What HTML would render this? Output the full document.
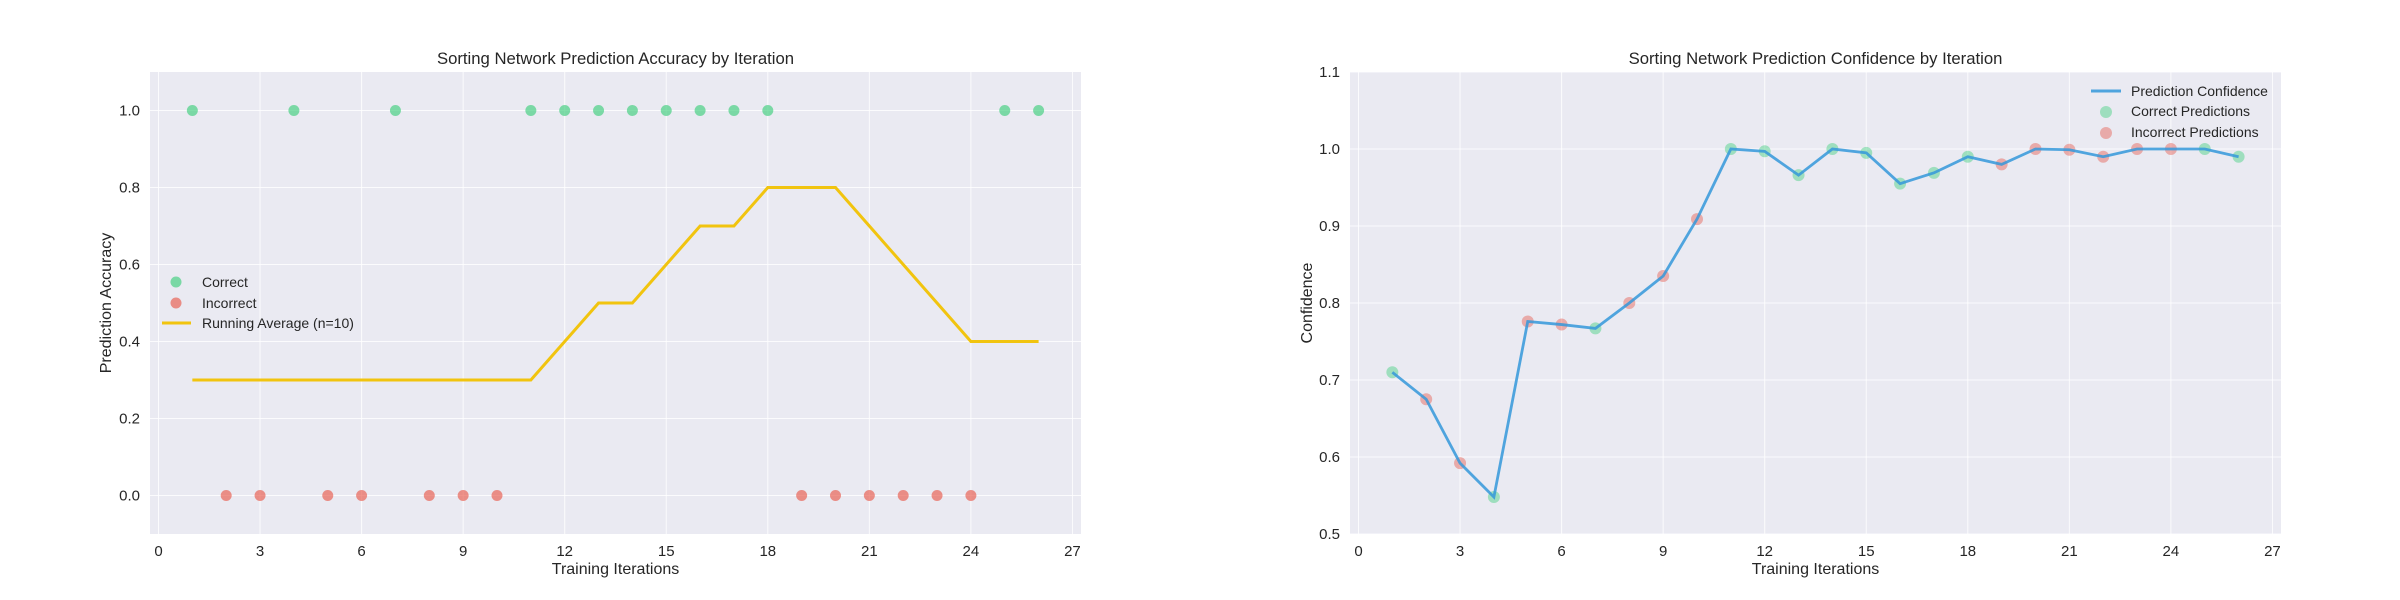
<!DOCTYPE html>
<html><head><meta charset="utf-8"><style>
html,body{margin:0;padding:0;background:#fff;}
svg{display:block;font-family:"Liberation Sans",sans-serif;}
</style></head><body>
<svg id="chart" width="2400" height="600" viewBox="0 0 2400 600" xmlns="http://www.w3.org/2000/svg"></svg>
<script>
const iterations = [1,2,3,4,5,6,7,8,9,10,11,12,13,14,15,16,17,18,19,20,21,22,23,24,25,26];
const correct = [1,0,0,1,0,0,1,0,0,0,1,1,1,1,1,1,1,1,0,0,0,0,0,0,1,1];
const runningAvg = [0.3,0.3,0.3,0.3,0.3,0.3,0.3,0.3,0.3,0.3,0.3,0.4,0.5,0.5,0.6,0.7,0.7,0.8,0.8,0.8,0.7,0.6,0.5,0.4,0.4,0.4];
const confidence = [0.71,0.675,0.592,0.548,0.776,0.772,0.767,0.800,0.835,0.909,1.0,0.997,0.966,1.0,0.995,0.955,0.969,0.99,0.98,1.0,0.999,0.99,1.0,1.0,1.0,0.99];
const xTicks = [0,3,6,9,12,15,18,21,24,27];
const yTicksAcc = [0.0,0.2,0.4,0.6,0.8,1.0];
const yTicksConf = [0.5,0.6,0.7,0.8,0.9,1.0,1.1];

const NS = "http://www.w3.org/2000/svg";
const svg = document.getElementById('chart');
function el(tag, attrs, parent){
  const e = document.createElementNS(NS, tag);
  for (const k in attrs) e.setAttribute(k, attrs[k]);
  (parent||svg).appendChild(e);
  return e;
}
function makeAxes(left, xmin, xmax, ymin, ymax){
  const top=72, bottom=534, right=left+931;
  const x0 = left + 8.5;
  const sx = v => x0 + v*33.85;
  const sy = v => bottom - (v-ymin)/(ymax-ymin)*(bottom-top);
  return {left,right,top,bottom,sx,sy};
}
function drawFrame(ax, yTicks, yFmt, name){
  const g = el('g',{});
  
  
  const bg = el('rect',{x:ax.left,y:ax.top,width:ax.right-ax.left,height:ax.bottom-ax.top,fill:'#eaeaf2'},g);
  
  
  xTicks.forEach(t=>{
    const x = ax.sx(t);
    el('line',{x1:x,x2:x,y1:ax.top,y2:ax.bottom,stroke:'#fff','stroke-width':1,'stroke-opacity':0.8},g);
    const tx = el('text',{x:x,y:556,'text-anchor':'middle','font-size':15,fill:'#262626'},g);
    tx.textContent = t;
    
    
  });
  yTicks.forEach(t=>{
    const y = ax.sy(t);
    el('line',{x1:ax.left,x2:ax.right,y1:y,y2:y,stroke:'#fff','stroke-width':1,'stroke-opacity':0.8},g);
    const ty = el('text',{x:ax.left-10,y:y+5,'text-anchor':'end','font-size':15,fill:'#262626'},g);
    ty.textContent = yFmt(t);
    
    
  });
  return g;
}
function text(x,y,s,size,name,anchor,rot){
  const t = el('text',{x:x,y:y,'font-size':size,fill:'#262626','text-anchor':anchor||'middle'});
  if(rot) t.setAttribute('transform','rotate(-90 '+x+' '+y+')');
  t.textContent = s;
  
  
  return t;
}

// Left chart
const A = makeAxes(150, 0, 27, -0.1, 1.1);
drawFrame(A, yTicksAcc, v=>v.toFixed(1), 'accuracy');
text((A.left+A.right)/2, 64, 'Sorting Network Prediction Accuracy by Iteration', 16.7, 'accuracy-chart-title');
text((A.left+A.right)/2, 574, 'Training Iterations', 16, 'accuracy-x-axis-title');
text(111, 303, 'Prediction Accuracy', 16, 'accuracy-y-axis-title', 'middle', true);

let pts = iterations.map((it,i)=>A.sx(it)+','+A.sy(runningAvg[i])).join(' ');
const ra = el('polyline',{points:pts,fill:'none',stroke:'#f1c40f','stroke-width':3});


iterations.forEach((it,i)=>{
  const c = el('circle',{cx:A.sx(it),cy:A.sy(correct[i]),r:5.5,fill:correct[i]?'#2ecc71':'#e74c3c','fill-opacity':0.6});
  
  
});
const lg1 = el('g',{});


el('circle',{cx:176,cy:282,r:5.5,fill:'#2ecc71','fill-opacity':0.6},lg1);
el('circle',{cx:176,cy:303,r:5.5,fill:'#e74c3c','fill-opacity':0.6},lg1);
el('line',{x1:162,x2:191,y1:323,y2:323,stroke:'#f1c40f','stroke-width':3},lg1);
[['Correct',282],['Incorrect',303],['Running Average (n=10)',323]].forEach(([s,y])=>{
  const t = el('text',{x:202,y:y+5,'font-size':14,fill:'#262626'},lg1);
  t.textContent = s;
  
  
});

// Right chart
const B = makeAxes(1350, 0, 27, 0.5, 1.1);
drawFrame(B, yTicksConf, v=>v.toFixed(1), 'confidence');
text((B.left+B.right)/2, 64, 'Sorting Network Prediction Confidence by Iteration', 16.7, 'confidence-chart-title');
text((B.left+B.right)/2, 574, 'Training Iterations', 16, 'confidence-x-axis-title');
text(1312, 303, 'Confidence', 16, 'confidence-y-axis-title', 'middle', true);

iterations.forEach((it,i)=>{
  const c = el('circle',{cx:B.sx(it),cy:B.sy(confidence[i]),r:6,fill:correct[i]?'#2ecc71':'#e74c3c','fill-opacity':0.4});
  
  
});
pts = iterations.map((it,i)=>B.sx(it)+','+B.sy(confidence[i])).join(' ');
const cl = el('polyline',{points:pts,fill:'none',stroke:'#3498db','stroke-width':2.8,'stroke-opacity':0.85});


const lg2 = el('g',{});


el('line',{x1:2091,x2:2121,y1:91,y2:91,stroke:'#3498db','stroke-width':3,'stroke-opacity':0.85},lg2);
el('circle',{cx:2106,cy:112,r:6,fill:'#2ecc71','fill-opacity':0.4},lg2);
el('circle',{cx:2106,cy:133,r:6,fill:'#e74c3c','fill-opacity':0.4},lg2);
[['Prediction Confidence',91],['Correct Predictions',111],['Incorrect Predictions',132]].forEach(([s,y])=>{
  const t = el('text',{x:2131,y:y+5,'font-size':14,fill:'#262626'},lg2);
  t.textContent = s;
  
  
});
</script>
</body></html>
